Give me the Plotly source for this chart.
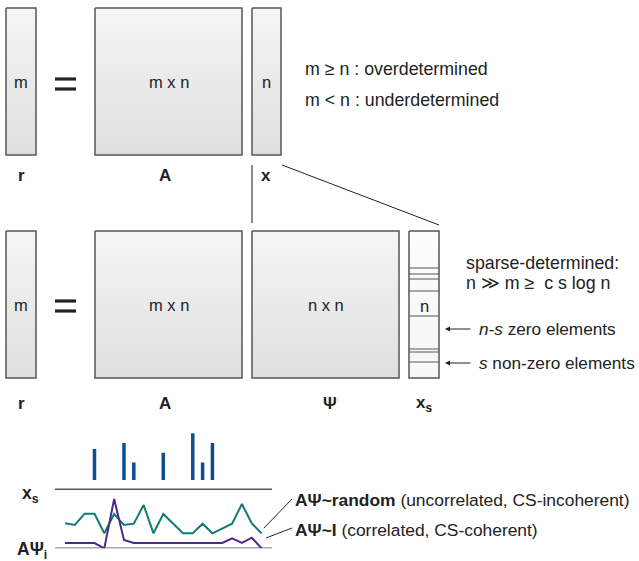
import plotly.graph_objects as go

# ---------------- data ----------------
sig_index = list(range(21))
random_vals = [25, 23.3, 34.6, 34.6, 15, 34.3, 23.3, 24.6, 43.3, 15, 34.3,
               25, 15, 15, 24.6, 15, 20, 24.6, 44.3, 25, 15]
identity_vals = [5.3, 5.3, 5.3, 5.3, 0, 49.3, 8.3, 5.3, 5.3, 5.3, 5.3,
                 5.3, 5.3, 5.3, 5.3, 5.3, 5.3, 10, 5.3, 10.6, 0]
spike_index = [3, 6, 7, 10, 13, 14, 15]
spike_height = [31, 37, 17.4, 27.3, 46.7, 17.4, 37]
spike_base = 68.3
xs_baseline = 59

W, H = 639, 561
FONT = "Liberation Sans, Arial, Helvetica, sans-serif"
TXT = "#222222"

# diagram boxes (pixel layout): x0, y0, x1, y1, label, light
boxes = [
    (6, 8, 36, 155, "m", False),
    (95, 8, 242, 155, "m x n", False),
    (252, 8, 281, 155, "n", False),
    (6, 231, 36, 378, "m", False),
    (95, 231, 242, 378, "m x n", False),
    (252, 231, 399, 378, "n x n", False),
    (409, 231, 439, 378, "n", True),
]
xs_stripes = [268, 274, 279, 291, 316, 349, 352, 362]

fig = go.Figure()

for (x0, y0, x1, y1, lab, light) in boxes:
    top, bot = ("#f7f7f7", "#fcfcfc") if light else ("#dfdfdf", "#f5f5f5")
    fig.add_trace(go.Scatter(
        x=[x0, x1, x1, x0, x0], y=[y0, y0, y1, y1, y0],
        mode="lines", fill="toself",
        line=dict(color="#555555", width=1.5),
        fillgradient=dict(type="vertical", colorscale=[[0, top], [1, bot]]),
        hoverinfo="skip", showlegend=False, xaxis="x", yaxis="y"))
    cy = (y0 + y1) / 2 if not light else 306
    fig.add_annotation(x=(x0 + x1) / 2, y=cy, text=lab, showarrow=False,
                       xref="x", yref="y", font=dict(family=FONT, size=16.5, color=TXT))

shapes = []
for yy in xs_stripes:
    shapes.append(dict(type="line", xref="x", yref="y", x0=409, x1=439, y0=yy, y1=yy,
                       line=dict(color="#555555", width=1)))
# equal signs
for cy in (84, 306):
    for dy in (-5, 5):
        shapes.append(dict(type="line", xref="x", yref="y", x0=55, x1=76,
                           y0=cy + dy, y1=cy + dy, line=dict(color="#222222", width=3.2)))
# connectors
shapes.append(dict(type="line", xref="x", yref="y", x0=252, x1=252, y0=165, y1=223,
                   line=dict(color="#666666", width=1.5)))
shapes.append(dict(type="line", xref="x", yref="y", x0=282, x1=439, y0=165, y1=225,
                   line=dict(color="#222222", width=1)))
# baselines in signal panel
for yv in (0, xs_baseline):
    shapes.append(dict(type="line", xref="x2", yref="y2", x0=-1.017, x1=21.06, y0=yv, y1=yv,
                       line=dict(color="#555555", width=1.5)))
# leader lines
shapes.append(dict(type="line", xref="x", yref="y", x0=264, y0=528, x1=292, y1=499,
                   line=dict(color="#222222", width=1)))
shapes.append(dict(type="line", xref="x", yref="y", x0=266, y0=538, x1=292, y1=528,
                   line=dict(color="#222222", width=1)))

# spikes
sx, sy = [], []
for i, h in zip(spike_index, spike_height):
    sx += [i, i, None]
    sy += [spike_base, spike_base + h, None]
fig.add_trace(go.Scatter(x=sx, y=sy, mode="lines", line=dict(color="#0e4e8c", width=3.5),
                         xaxis="x2", yaxis="y2", hoverinfo="skip", showlegend=False))
fig.add_trace(go.Scatter(x=sig_index, y=random_vals, mode="lines",
                         line=dict(color="#137b73", width=2),
                         xaxis="x2", yaxis="y2", hoverinfo="skip", showlegend=False))
fig.add_trace(go.Scatter(x=sig_index, y=identity_vals, mode="lines",
                         line=dict(color="#4a2a8a", width=2),
                         xaxis="x2", yaxis="y2", hoverinfo="skip", showlegend=False))

def txt(x, y, s, size=15, anchor="left", bold=False):
    fig.add_annotation(x=x, y=y, text=(f"<b>{s}</b>" if bold else s), showarrow=False,
                       xref="x", yref="y", xanchor=anchor, yanchor="middle",
                       font=dict(family=FONT, size=size, color=TXT))

txt(303, 69, "m ≥ n : overdetermined", 17.8)
txt(303, 100, "m < n : underdetermined", 17.8)
txt(464, 263, "sparse-determined:", 17.8)
txt(464, 283, "n ≫ m ≥  c s log n", 17.8)
txt(477, 329, "<i>n-s</i> zero elements", 17.2)
txt(477, 363, "<i>s</i> non-zero elements", 17.2)

for x, lab in [(21, "r"), (165, "A"), (266, "x")]:
    txt(x, 175, lab, 17, "center", True)
for x, lab in [(21, "r"), (165, "A"), (330, "Ψ")]:
    txt(x, 403, lab, 17, "center", True)
txt(424, 404, "x<sub>s</sub>", 17, "center", True)

txt(30, 494, "x<sub>s</sub>", 17.5, "center", True)
txt(32, 550, "AΨ<sub>i</sub>", 17.5, "center", True)
txt(293, 500, "<b>AΨ~random</b> (uncorrelated, CS-incoherent)", 17.4)
txt(293, 530, "<b>AΨ~I</b> (correlated, CS-coherent)", 17.4)

for ay in (329, 363):
    fig.add_annotation(x=445, y=ay, ax=472, ay=ay, xref="x", yref="y", axref="x", ayref="y",
                       showarrow=True, arrowhead=2, arrowsize=1, arrowwidth=1,
                       arrowcolor="#222222", text="")

fig.update_layout(
    width=W, height=H, margin=dict(l=0, r=0, t=0, b=0), autosize=False,
    paper_bgcolor="white", plot_bgcolor="rgba(0,0,0,0)", shapes=shapes,
    xaxis=dict(range=[0, W], domain=[0, 1], visible=False, fixedrange=True),
    yaxis=dict(range=[H, 0], domain=[0, 1], visible=False, fixedrange=True),
    xaxis2=dict(range=[-1.017, 21.06], domain=[55 / W, 272 / W], visible=False,
                anchor="y2", fixedrange=True),
    yaxis2=dict(range=[0, 118.3], domain=[1 - 548.3 / H, 1 - 430 / H], visible=False,
                anchor="x2", fixedrange=True),
)

fig.write_html("out.html", config={"displayModeBar": False},
               post_script="document.body.style.margin='0px';document.body.style.overflow='hidden';")
